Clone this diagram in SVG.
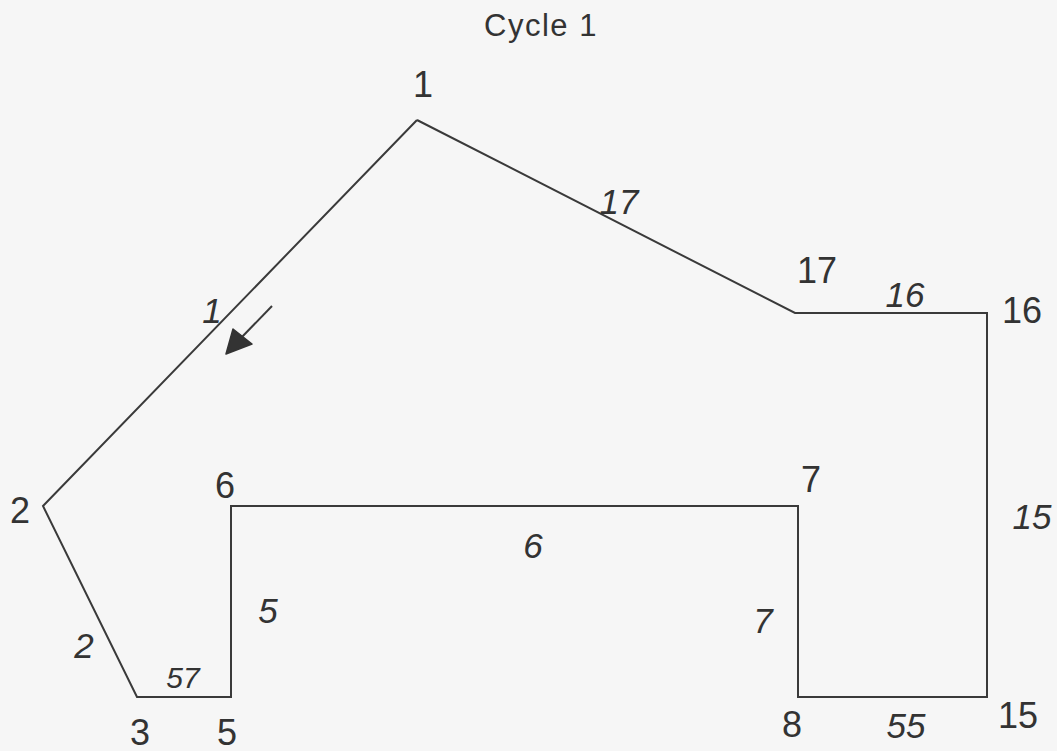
<svg xmlns="http://www.w3.org/2000/svg" width="1057" height="751" viewBox="0 0 1057 751">
<style>
.bg{fill:#f6f6f6}
.edge{fill:none;stroke:#3a3a3a;stroke-width:2;stroke-linejoin:miter}
.nl{font-family:"Liberation Sans",Arial,sans-serif;font-size:36px;fill:#333;text-anchor:middle}
.el{font-family:"Liberation Sans",Arial,sans-serif;font-size:35px;font-style:italic;fill:#333;text-anchor:middle}
.title{font-family:"Liberation Sans",Arial,sans-serif;font-size:31px;fill:#333;text-anchor:middle;letter-spacing:1.5px}
</style>
<rect class="bg" x="0" y="0" width="1057" height="751"/>
<text class="title" x="541" y="36">Cycle 1</text>
<g id="connectors">
<polyline class="edge" points="417,120 795,313 987,313 987,697 798,697 798,506 231,506 231,697 137,697 43,506 417,120"/>
<line class="edge" x1="272" y1="306" x2="240" y2="339"/>
<polygon points="226,354 233,329 252,344" fill="#333" stroke="#333" stroke-width="1.5" stroke-linejoin="round"/>
</g>
<g id="edge-labels">
<text class="el" x="619" y="214">17</text>
<text class="el" x="905" y="307">16</text>
<text class="el" x="212" y="323">1</text>
<text class="el" x="1032" y="529">15</text>
<text class="el" x="533" y="558">6</text>
<text class="el" x="268" y="623">5</text>
<text class="el" x="763" y="633">7</text>
<text class="el" x="84" y="658">2</text>
<text class="el" x="183" y="688" style="font-size:30px">57</text>
<text class="el" x="906" y="738">55</text>
</g>
<g id="node-1"><text class="nl" x="423" y="97">1</text></g>
<g id="node-17"><text class="nl" x="817" y="283">17</text></g>
<g id="node-16"><text class="nl" x="1022" y="323">16</text></g>
<g id="node-15"><text class="nl" x="1018" y="728">15</text></g>
<g id="node-8"><text class="nl" x="792" y="737">8</text></g>
<g id="node-7"><text class="nl" x="811" y="492">7</text></g>
<g id="node-6"><text class="nl" x="225" y="498">6</text></g>
<g id="node-5"><text class="nl" x="227" y="745">5</text></g>
<g id="node-3"><text class="nl" x="140" y="745">3</text></g>
<g id="node-2"><text class="nl" x="20" y="523">2</text></g>
</svg>
